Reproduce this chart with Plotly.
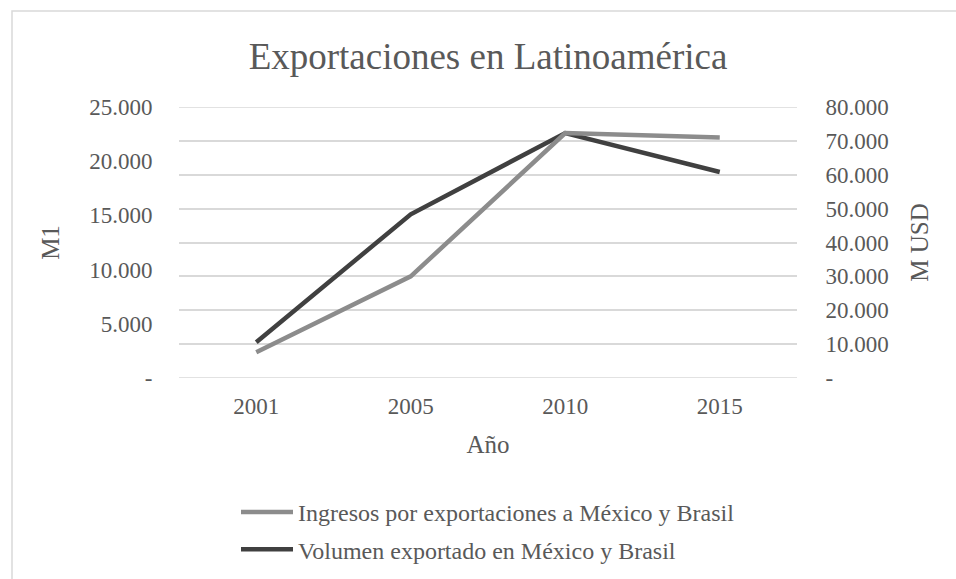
import plotly.graph_objects as go

years = ["2001", "2005", "2010", "2015"]
ingresos = [7600, 30000, 72300, 71000]      # M USD (right axis)
volumen = [3300, 15100, 22600, 19000]        # M1 (left axis)

left_vals = [0, 5000, 10000, 15000, 20000, 25000]
left_text = ["-", "5.000", "10.000", "15.000", "20.000", "25.000"]
right_vals = [0, 10000, 20000, 30000, 40000, 50000, 60000, 70000, 80000]
right_text = ["-", "10.000", "20.000", "30.000", "40.000", "50.000", "60.000", "70.000", "80.000"]

FONT = "Liberation Serif, Times New Roman, serif"
TXT = "#595959"
GRID = "#d9d9d9"

fig = go.Figure()
fig.add_trace(go.Scatter(x=years, y=ingresos, name="Ingresos por exportaciones a México y Brasil",
                         mode="lines", line=dict(color="#8c8c8c", width=4.5), yaxis="y2",
                         legendgroup="a"))
fig.add_trace(go.Scatter(x=years, y=volumen, name="Volumen exportado en México y Brasil",
                         mode="lines", line=dict(color="#404040", width=4.5), yaxis="y",
                         legendgroup="b"))

L, R, T, B = 179, 159, 107, 201
W, H = 956, 579
pw, ph = W - L - R, H - T - B

def px_x(p):
    return (p - L) / pw

def px_y(p):
    return (H - B - p) / ph

shapes = [dict(type="rect", xref="paper", yref="paper",
               x0=px_x(12), x1=px_x(W + 20), y0=px_y(H + 20), y1=px_y(11),
               line=dict(color=GRID, width=1.5), fillcolor="rgba(0,0,0,0)", layer="below")]
# edge gridlines (plotly drops gridlines that sit on the plot edges)
for v in (right_vals[0], right_vals[-1]):
    shapes.append(dict(type="line", xref="paper", yref="y2", x0=0, x1=1, y0=v, y1=v,
                       line=dict(color=GRID, width=1.5), layer="below"))

fig.update_layout(
    width=W, height=H,
    margin=dict(l=L, r=R, t=T, b=B, autoexpand=False),
    paper_bgcolor="white", plot_bgcolor="white",
    font=dict(family=FONT, color=TXT, size=23),
    title=dict(text="Exportaciones en Latinoamérica", x=0.5, xref="paper", xanchor="center",
               y=1 - 56 / H, yanchor="middle", font=dict(size=37, color=TXT, family=FONT)),
    xaxis=dict(type="category", range=[-0.5, 3.5], showgrid=False, zeroline=False, showline=False,
               ticks="outside", ticklen=7, tickcolor="rgba(0,0,0,0)", automargin=False,
               title=dict(text="Año", font=dict(size=25), standoff=17),
               tickfont=dict(size=23)),
    yaxis=dict(range=[0, 25000], tickvals=left_vals, ticktext=left_text, showgrid=False,
               zeroline=False, showline=False, ticks="outside", ticklen=21, tickcolor="rgba(0,0,0,0)",
               automargin=False,
               title=dict(text="M1", font=dict(size=25), standoff=22), tickfont=dict(size=23)),
    yaxis2=dict(range=[0, 80000], tickvals=right_vals, ticktext=right_text, overlaying="y", side="right",
                showgrid=True, gridcolor=GRID, gridwidth=1.5, zeroline=False, showline=False,
                ticks="outside", ticklen=23, tickcolor="rgba(0,0,0,0)", automargin=False,
                title=dict(text="M USD", font=dict(size=25), standoff=22), tickfont=dict(size=23)),
    legend=dict(x=px_x(236), y=px_y(490), xanchor="left", yanchor="top", orientation="v",
                font=dict(size=24, color=TXT, family=FONT), tracegroupgap=3, itemwidth=52,
                bgcolor="rgba(0,0,0,0)"),
    showlegend=True,
    shapes=shapes,
)

fig.write_html("out.html")
